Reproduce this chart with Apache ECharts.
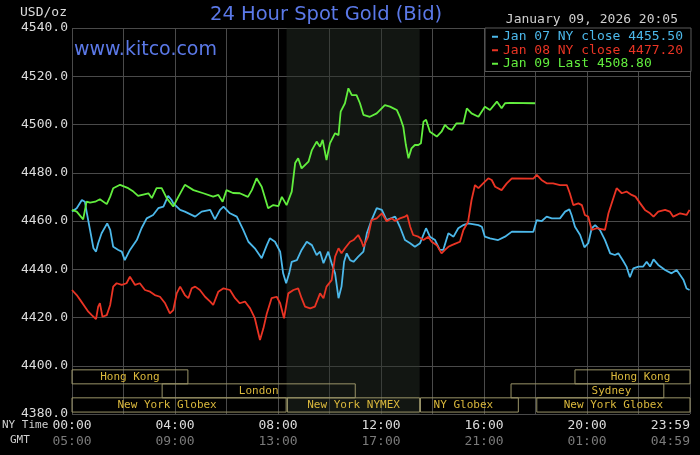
<!DOCTYPE html>
<html><head><meta charset="utf-8">
<script src="https://cdn.jsdelivr.net/npm/echarts@6/dist/echarts.min.js"></script>
<style>html,body{margin:0;padding:0;background:#000}#c{width:700px;height:455px}</style>
</head><body><div id="c"></div>
<script>
// ---- data ----
const seriesNames = ['Jan 07 NY close', 'Jan 08 NY close', 'Jan 09 Last'];
const seriesLastValues = ['4455.50', '4477.20', '4508.80'];
const jan07 = [[0,4463.9],[11,4465.3],[23,4468.7],[30,4468.0],[34,4463.9],[42,4456.3],[50,4448.7],[56,4447.3],[61,4450.8],[69,4454.9],[82,4459.0],[89,4456.3],[96,4449.3],[108,4448.0],[116,4447.3],[123,4443.8],[135,4448.0],[151,4452.1],[162,4457.0],[174,4461.1],[189,4462.5],[201,4465.3],[213,4466.0],[224,4470.4],[232,4468.7],[236,4467.3],[252,4464.6],[263,4463.9],[287,4461.8],[302,4463.9],[322,4464.6],[333,4460.7],[345,4464.6],[353,4466.0],[368,4463.2],[384,4461.8],[399,4456.3],[411,4451.4],[426,4448.7],[442,4444.6],[454,4450.0],[461,4452.8],[473,4451.4],[485,4447.3],[492,4438.3],[499,4434.2],[506,4438.3],[512,4443.1],[524,4443.8],[535,4448.0],[547,4451.4],[559,4450.0],[570,4445.9],[578,4447.3],[586,4442.5],[597,4447.3],[605,4442.5],[613,4438.3],[621,4428.0],[628,4432.8],[634,4443.1],[640,4446.6],[648,4443.8],[656,4443.1],[667,4445.2],[679,4447.3],[687,4454.9],[698,4460.4],[710,4465.3],[722,4464.6],[733,4460.4],[753,4461.8],[764,4457.6],[776,4452.1],[788,4450.8],[799,4449.3],[811,4450.8],[825,4457.0],[834,4453.5],[846,4452.1],[857,4448.0],[865,4448.0],[877,4454.9],[889,4453.5],[900,4457.0],[912,4458.3],[923,4459.0],[947,4458.3],[955,4457.6],[962,4453.5],[974,4452.8],[993,4452.1],[1009,4453.5],[1025,4455.6],[1075,4455.5],[1083,4460.4],[1094,4459.9],[1106,4461.8],[1118,4461.1],[1137,4461.1],[1149,4463.9],[1159,4464.8],[1164,4462.5],[1172,4457.6],[1184,4454.2],[1194,4449.1],[1203,4450.8],[1211,4457.0],[1219,4458.3],[1230,4456.3],[1242,4452.1],[1254,4446.6],[1265,4445.9],[1273,4446.6],[1283,4443.8],[1292,4441.1],[1300,4436.7],[1308,4440.4],[1320,4441.1],[1331,4441.1],[1339,4443.1],[1347,4441.1],[1355,4444.1],[1366,4441.8],[1382,4439.7],[1397,4438.3],[1409,4439.7],[1417,4437.6],[1425,4435.5],[1432,4432.0],[1439,4431.4]];
const jan08 = [[0,4431.4],[11,4429.3],[19,4427.3],[30,4424.5],[38,4422.4],[46,4421.0],[56,4419.3],[61,4424.5],[65,4425.9],[71,4420.3],[81,4421.0],[89,4425.2],[96,4432.8],[104,4434.2],[116,4433.5],[127,4434.2],[135,4436.9],[147,4433.5],[158,4434.2],[170,4431.4],[182,4430.7],[193,4429.3],[205,4428.6],[217,4425.9],[228,4421.7],[236,4423.1],[244,4430.0],[252,4432.8],[263,4429.3],[271,4428.0],[279,4432.1],[287,4432.8],[298,4431.4],[310,4428.6],[322,4426.6],[329,4425.2],[341,4430.7],[353,4432.1],[368,4431.4],[380,4428.0],[391,4425.9],[403,4426.6],[415,4423.8],[426,4419.7],[438,4410.7],[446,4415.5],[454,4421.7],[465,4428.0],[477,4428.6],[485,4425.9],[494,4419.7],[504,4430.0],[516,4431.4],[527,4432.1],[535,4428.0],[543,4424.5],[555,4423.8],[566,4424.5],[578,4430.0],[586,4428.0],[593,4432.8],[605,4435.5],[613,4445.2],[621,4448.7],[628,4446.6],[636,4448.7],[648,4451.4],[656,4452.1],[667,4454.2],[675,4451.4],[679,4449.3],[690,4453.5],[698,4460.4],[710,4461.1],[722,4463.2],[733,4459.9],[745,4461.1],[753,4460.0],[764,4461.1],[776,4461.8],[781,4462.5],[788,4457.6],[795,4454.2],[807,4453.5],[819,4452.1],[830,4453.5],[838,4451.4],[850,4450.0],[861,4446.6],[869,4448.0],[877,4449.3],[885,4450.0],[896,4450.8],[904,4451.4],[912,4456.3],[923,4459.7],[931,4468.7],[939,4474.9],[947,4473.6],[958,4475.6],[970,4477.7],[978,4477.0],[986,4474.2],[1001,4472.8],[1013,4475.6],[1025,4477.7],[1075,4477.6],[1083,4479.1],[1094,4477.0],[1106,4475.6],[1121,4475.6],[1137,4474.9],[1153,4474.9],[1160,4471.5],[1168,4466.6],[1180,4467.3],[1188,4466.6],[1195,4462.5],[1203,4461.8],[1211,4456.3],[1223,4457.0],[1242,4456.3],[1250,4463.2],[1260,4468.7],[1269,4473.6],[1281,4471.5],[1292,4472.2],[1304,4470.8],[1313,4470.1],[1324,4467.3],[1335,4464.6],[1347,4463.2],[1355,4461.8],[1366,4463.9],[1382,4464.6],[1393,4463.9],[1401,4461.8],[1417,4463.2],[1432,4462.5],[1439,4464.6]];
const jan09 = [[0,4464.6],[11,4463.9],[26,4460.7],[34,4468.0],[42,4467.6],[54,4468.0],[65,4469.0],[81,4467.0],[89,4470.1],[96,4473.6],[112,4475.0],[131,4473.6],[143,4472.2],[154,4470.4],[178,4471.5],[186,4469.5],[197,4473.6],[209,4473.6],[221,4469.4],[236,4466.0],[248,4470.1],[263,4475.0],[283,4472.8],[306,4471.5],[329,4470.1],[341,4470.8],[351,4468.0],[360,4472.8],[375,4471.6],[391,4471.5],[410,4470.0],[419,4472.8],[430,4477.7],[442,4474.2],[457,4465.3],[469,4466.6],[481,4466.2],[489,4470.0],[500,4466.6],[512,4472.2],[520,4484.0],[527,4486.0],[535,4481.8],[551,4484.6],[559,4489.4],[570,4492.9],[578,4490.8],[584,4493.6],[593,4485.3],[601,4492.2],[613,4496.4],[621,4495.6],[626,4505.3],[636,4508.8],[644,4515.0],[652,4512.2],[663,4512.2],[671,4508.8],[679,4504.0],[694,4503.2],[710,4504.6],[729,4508.0],[741,4507.4],[749,4506.7],[757,4506.0],[764,4503.2],[772,4499.0],[778,4491.5],[784,4486.0],[791,4490.1],[799,4491.5],[807,4491.5],[813,4492.2],[819,4501.2],[825,4502.0],[834,4497.0],[850,4495.0],[861,4497.0],[869,4499.8],[877,4498.4],[885,4497.7],[896,4500.5],[912,4500.5],[920,4506.7],[931,4504.6],[947,4503.2],[962,4507.4],[974,4506.0],[990,4509.5],[1001,4506.7],[1009,4508.8],[1021,4509.0],[1079,4508.8]];
const nyTimeLabels = ['00:00', '04:00', '08:00', '12:00', '16:00', '20:00', '23:59'];
const gmtLabels = ['05:00', '09:00', '13:00', '17:00', '21:00', '01:00', '04:59'];
const sessionNames = ['Hong Kong', 'London', 'New York Globex', 'New York NYMEX', 'NY Globex', 'New York Globex', 'Sydney', 'Hong Kong'];
const sessionStart = [0, 210, 0, 502, 812, 1083, 1023, 1172];
const sessionEnd = [270, 660, 499, 810, 1040, 1440, 1379, 1440];
const sessionRow = [0, 1, 2, 2, 2, 2, 1, 0];
const nymexWindow = [500, 810];

// ---- styles ----
const MONO = 'DejaVu Sans Mono';
const colors = ['#4cb8ea', '#ea3424', '#62ee3e'];
const rowBounds = [[4392.5, 4398.3], [4386.7, 4392.5], [4380.8, 4386.7]];
const labelOffsets = [[0,0],[0,0],[-12,0],[0,0],[-6,0],[0,0],[24,0],[8,0]];

const chart = echarts.init(document.getElementById('c'), null, {renderer: 'canvas'});

const lineSeries = [jan07, jan08, jan09].map((d, i) => ({
  name: seriesNames[i], type: 'line', data: d, showSymbol: false, symbol: 'none',
  lineStyle: {color: colors[i], width: 1.8}, itemStyle: {color: colors[i]},
  z: 5, animation: false
}));

const sessionAreas = sessionNames.map((n, i) => ([
  {name: n, xAxis: sessionStart[i], yAxis: rowBounds[sessionRow[i]][1],
   label: {offset: labelOffsets[i]}},
  {xAxis: sessionEnd[i], yAxis: rowBounds[sessionRow[i]][0]}
]));

chart.setOption({
  backgroundColor: '#000',
  animation: false,
  title: [
    {text: '24 Hour Spot Gold (Bid)', left: 210, top: 5, padding: 0,
     textStyle: {fontFamily: 'DejaVu Sans', fontSize: 19.5, fontWeight: 'normal', color: '#5b79e8'}},
    {text: 'www.kitco.com', left: 74, top: 41, padding: 0,
     textStyle: {fontFamily: 'DejaVu Sans', fontSize: 19, fontWeight: 'normal', color: '#5b79e8'}},
    {text: 'January 09, 2026 20:05', right: 22, top: 13, padding: 0,
     textStyle: {fontFamily: MONO, fontSize: 13, fontWeight: 'normal', color: '#cfcfcf'}}
  ],
  legend: {
    orient: 'vertical', left: 485, top: 28, padding: [2, 8, 1, 7], itemGap: 0,
    itemWidth: 6, itemHeight: 2, icon: 'rect', selectedMode: false,
    backgroundColor: '#000', borderColor: '#5a5a5a', borderWidth: 1,
    textStyle: {fontFamily: MONO, fontSize: 13, lineHeight: 13.5},
    formatter: name => name + ' ' + seriesLastValues[seriesNames.indexOf(name)],
    data: seriesNames.map((n, i) => ({name: n, textStyle: {color: colors[i]}}))
  },
  grid: {left: 72, right: 10, top: 28, bottom: 41, containLabel: false},
  xAxis: {
    type: 'value', min: 0, max: 1440, interval: 120,
    axisLine: {show: false}, axisTick: {show: false},
    splitLine: {show: true, lineStyle: {color: '#4a4a4a', width: 1}},
    axisLabel: {
      margin: 4, showMaxLabel: true, alignMaxLabel: 'right',
      formatter: v => {
        if (v % 240 !== 0) return '';
        const k = v / 240;
        return '{a|' + nyTimeLabels[k] + '}\n{b|' + gmtLabels[k] + '}';
      },
      rich: {
        a: {fontFamily: MONO, fontSize: 13, color: '#dcdcdc', lineHeight: 16},
        b: {fontFamily: MONO, fontSize: 13, color: '#7a7a7a', lineHeight: 16}
      }
    }
  },
  yAxis: {
    type: 'value', min: 4380, max: 4540, interval: 20,
    axisLine: {show: false}, axisTick: {show: false},
    splitLine: {show: true, lineStyle: {color: '#4a4a4a', width: 1}},
    axisLabel: {margin: 4, formatter: v => v.toFixed(1), fontFamily: MONO, fontSize: 13, color: '#dcdcdc'}
  },
  graphic: [
    {type: 'text', right: 633, top: 6, style: {text: 'USD/oz', fill: '#dcdcdc', font: '13px "DejaVu Sans Mono"'}},
    {type: 'text', left: 2, top: 420, style: {text: 'NY Time', fill: '#cfcfcf', font: '11px "DejaVu Sans Mono"'}},
    {type: 'text', left: 10, top: 435, style: {text: 'GMT', fill: '#cfcfcf', font: '11px "DejaVu Sans Mono"'}}
  ],
  series: [
    {type: 'line', data: [], z: 1, silent: true,
     markArea: {silent: true, z: 1, itemStyle: {color: 'rgba(40,48,40,0.45)'}, label: {show: false},
       data: [[{xAxis: nymexWindow[0]}, {xAxis: nymexWindow[1]}]]}},
    {type: 'line', data: [], z: 3, silent: true,
     markArea: {silent: true,
       itemStyle: {color: 'rgba(0,0,0,0)', borderColor: '#9a9468', borderWidth: 1},
       label: {show: true, position: 'inside', color: '#dab83c', fontFamily: MONO, fontSize: 11},
       data: sessionAreas}},
    ...lineSeries
  ]
});
</script></body></html>
